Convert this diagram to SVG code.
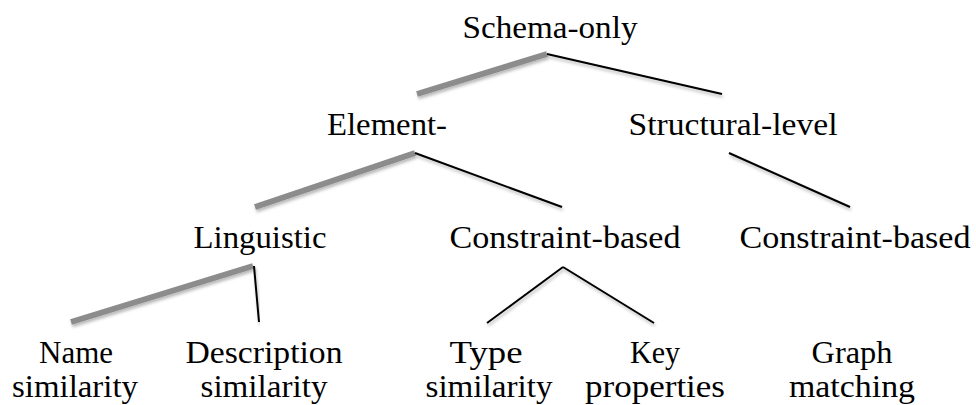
<svg xmlns="http://www.w3.org/2000/svg" width="976" height="405" viewBox="0 0 976 405">
<defs>
<filter id="sh" x="-20%" y="-50%" width="140%" height="200%">
<feDropShadow dx="1" dy="2.5" stdDeviation="1.6" flood-color="#000" flood-opacity="0.28"/>
</filter>
<style>
text{font-family:"Liberation Serif","Times New Roman",serif;font-size:32px;fill:#000;text-anchor:middle}
.hl{stroke:#8c8c8c;stroke-width:6;fill:none;filter:url(#sh)}
.ln{stroke:#000;stroke-width:2;fill:none;filter:url(#sh)}
</style>
</defs>
<rect width="976" height="405" fill="#fff"/>
<g id="connectors">
<line class="hl" x1="417" y1="94" x2="547" y2="54"/>
<line class="ln" x1="547" y1="54" x2="722" y2="94"/>
<line class="hl" x1="255" y1="207" x2="415" y2="153"/>
<line class="ln" x1="415" y1="153" x2="562" y2="207"/>
<line class="ln" x1="729" y1="153" x2="850" y2="207"/>
<line class="hl" x1="71" y1="322" x2="253" y2="266"/>
<line class="ln" x1="254" y1="266" x2="259" y2="322"/>
<line class="ln" x1="563" y1="267" x2="487" y2="323"/>
<line class="ln" x1="563" y1="267" x2="654" y2="323"/>
<line class="ln" x1="852" y1="267" x2="852" y2="323"/>
</g>
<g id="schema-only"><text x="550" y="38" textLength="175" lengthAdjust="spacingAndGlyphs">Schema-only</text></g>
<g id="element"><text x="387" y="135" textLength="120" lengthAdjust="spacingAndGlyphs">Element-</text></g>
<g id="structural-level"><text x="733" y="135" textLength="209" lengthAdjust="spacingAndGlyphs">Structural-level</text></g>
<g id="linguistic"><text x="260" y="248" textLength="133" lengthAdjust="spacingAndGlyphs">Linguistic</text></g>
<g id="constraint-element"><text x="565" y="248" textLength="231" lengthAdjust="spacingAndGlyphs">Constraint-based</text></g>
<g id="constraint-structural"><text x="855" y="248" textLength="231" lengthAdjust="spacingAndGlyphs">Constraint-based</text></g>
<g id="name-similarity"><text x="76" y="363" textLength="74" lengthAdjust="spacingAndGlyphs">Name</text><text x="75" y="397" textLength="126" lengthAdjust="spacingAndGlyphs">similarity</text></g>
<g id="description-similarity"><text x="264" y="363" textLength="157" lengthAdjust="spacingAndGlyphs">Description</text><text x="264" y="397" textLength="127" lengthAdjust="spacingAndGlyphs">similarity</text></g>
<g id="type-similarity"><text x="486" y="363" textLength="73" lengthAdjust="spacingAndGlyphs">Type</text><text x="489" y="397" textLength="127" lengthAdjust="spacingAndGlyphs">similarity</text></g>
<g id="key-properties"><text x="655" y="363" textLength="50" lengthAdjust="spacingAndGlyphs">Key</text><text x="655" y="397" textLength="140" lengthAdjust="spacingAndGlyphs">properties</text></g>
<g id="graph-matching"><text x="852" y="363" textLength="81" lengthAdjust="spacingAndGlyphs">Graph</text><text x="852" y="397" textLength="126" lengthAdjust="spacingAndGlyphs">matching</text></g>
</svg>
